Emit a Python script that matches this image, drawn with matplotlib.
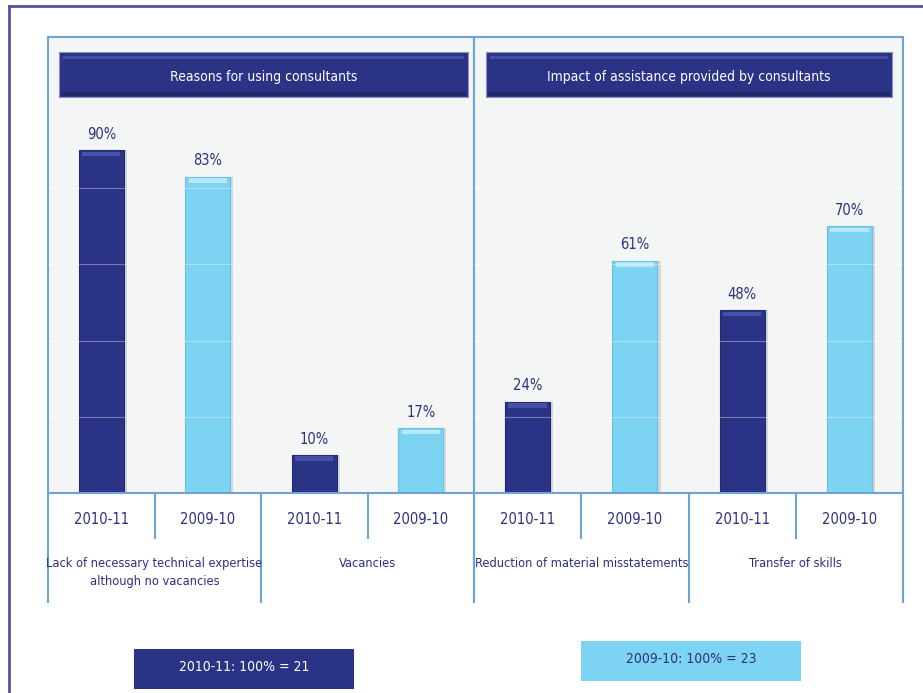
import matplotlib.pyplot as plt
from matplotlib.patches import Rectangle
from matplotlib.lines import Line2D

plt.rcParams['font.family'] = ['DejaVu Sans']
plt.rcParams['font.stretch'] = 'condensed'

# data
years = ["2010-11", "2009-10"]
reason_groups = ["Lack of necessary technical expertise\nalthough no vacancies", "Vacancies"]
reason_2010_11 = [90, 10]
reason_2009_10 = [83, 17]
impact_groups = ["Reduction of material misstatements", "Transfer of skills"]
impact_2010_11 = [24, 48]
impact_2009_10 = [61, 70]
panel_titles = ["Reasons for using consultants", "Impact of assistance provided by consultants"]
base_2010_11 = "2010-11: 100% = 21"
base_2009_10 = "2009-10: 100% = 23"

NAVY = "#2b3386"
SKY = "#7dd3f2"
TEXT = "#2e3080"
RULE = "#6fa3d6"
BG = "#f4f6f6"

W, H = 923, 693
fig = plt.figure(figsize=(W / 100, H / 100), dpi=100)


def fx(x):
    return x / W


def fy(y):
    return 1 - y / H


def box(x0, y0, x1, y1, **kw):
    r = Rectangle((fx(x0), fy(y1)), fx(x1) - fx(x0), fy(y0) - fy(y1),
                  transform=fig.transFigure, **kw)
    fig.add_artist(r)
    return r


def line(xs, ys, **kw):
    fig.add_artist(Line2D([fx(x) for x in xs], [fy(y) for y in ys],
                          transform=fig.transFigure, **kw))


# outer frame
line([9, 923], [6, 6], color="#5052a0", lw=2)
line([9, 9], [6, 693], color="#5052a0", lw=2)

top, base = 37, 493
panels = [(48, 474, reason_groups, reason_2010_11, reason_2009_10),
          (474, 903, impact_groups, impact_2010_11, impact_2009_10)]

for i, (x0, x1, groups, v_new, v_old) in enumerate(panels):
    ax = fig.add_axes([fx(x0), fy(base), fx(x1) - fx(x0), fy(top) - fy(base)])
    ax.set_facecolor(BG)
    ax.set_xlim(-0.5, 3.5)
    ax.set_ylim(0, 119.7)
    for s in ax.spines.values():
        s.set_color(RULE)
        s.set_linewidth(1.5)
    ax.set_xticks([])
    ax.set_yticks([])

    pos_new = [2 * k for k in range(len(groups))]
    pos_old = [2 * k + 1 for k in range(len(groups))]
    # soft shadow, bars, top highlight
    ax.bar([p + 0.03 for p in pos_new + pos_old], v_new + v_old, width=0.42,
           color="#9aa0a8", alpha=0.35, zorder=1)
    ax.bar(pos_new, v_new, width=0.42, color=NAVY, edgecolor="#232a70", lw=0.8, zorder=2)
    ax.bar(pos_old, v_old, width=0.42, color=SKY, edgecolor="#6cbfe0", lw=0.8, zorder=2)
    ax.bar(pos_new, [1.2] * len(v_new), bottom=[v - 1.6 for v in v_new], width=0.36,
           color="#4550a8", zorder=3)
    ax.bar(pos_old, [1.2] * len(v_old), bottom=[v - 1.6 for v in v_old], width=0.36,
           color="#b4e8fa", zorder=3)
    for g in (20, 40, 60, 80):
        ax.axhline(g, color="white", lw=0.8, alpha=0.35, zorder=4)
    for p, v in zip(pos_new + pos_old, v_new + v_old):
        ax.annotate(f"{v}%", (p, v), xytext=(0, 6), textcoords="offset points",
                    ha="center", va="bottom", fontsize=10.5, color=TEXT)

    # title bar
    hx0, hx1 = (59, 468) if i == 0 else (486, 892)
    box(hx0, 52, hx1, 97, color=NAVY, ec="#8a90c0", lw=0.8)
    box(hx0 + 4, 56, hx1 - 4, 59, color="#4450a6", lw=0)
    box(hx0 + 2, 92, hx1 - 2, 96, color="#232a6c", lw=0)
    fig.text(fx((hx0 + hx1) / 2), fy(77), panel_titles[i], ha="center", va="center",
             color="white", fontsize=10)

    # category table under the bars
    cell = (x1 - x0) / 4
    for k in range(4):
        cx = x0 + cell * (k + 0.5)
        fig.text(fx(cx), fy(520), years[k % 2], ha="center", va="center",
                 color=TEXT, fontsize=10.5)
    for k, g in enumerate(groups):
        cx = x0 + cell * (2 * k + 1)
        fig.text(fx(cx), fy(557), g, ha="center", va="top", color=TEXT,
                 fontsize=9.2, linespacing=1.55)
    for k in (1, 3):
        xx = x0 + cell * k
        line([xx, xx], [493, 538], color=RULE, lw=1.5)
    for xx in (x0, x0 + 2 * cell, x1):
        line([xx, xx], [493, 602], color=RULE, lw=1.5)

# base-count boxes
box(134, 649, 354, 689, color=NAVY, lw=0)
fig.text(fx(244), fy(667), base_2010_11, ha="center", va="center", color="white", fontsize=10)
box(581, 641, 801, 681, color=SKY, lw=0)
fig.text(fx(691), fy(659), base_2009_10, ha="center", va="center", color=TEXT, fontsize=10)

fig.savefig("out.png", dpi=100, facecolor="white")
